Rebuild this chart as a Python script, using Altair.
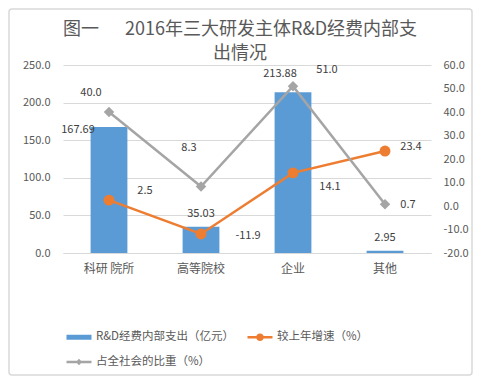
import altair as alt
import pandas as pd

# ---- data ----
categories = ["科研 院所", "高等院校", "企业", "其他"]
rd_spending = [167.69, 35.03, 213.88, 2.95]      # R&D经费内部支出（亿元）
growth_rate = [2.5, -11.9, 14.1, 23.4]           # 较上年增速（%）
share_pct = [40.0, 8.3, 51.0, 0.7]               # 占全社会的比重（%）
series_names = ["R&D经费内部支出（亿元）", "较上年增速（%）", "占全社会的比重（%）"]
left_ticks = [0, 50, 100, 150, 200, 250]
right_ticks = [-20, -10, 0, 10, 20, 30, 40, 50, 60]

df = pd.DataFrame({
    "cat": categories,
    "rd": rd_spending,
    "growth": growth_rate,
    "share": share_pct,
})
legend_df = pd.DataFrame({"series": series_names})

# ---- styles ----
FONT = "Noto Sans CJK SC"
BLUE, ORANGE, GRAY = "#5b9bd5", "#ed7d31", "#a5a5a5"
LBL = "#404040"
AX = "#595959"
GRID = "#d9d9d9"
MINUS_FIX = "replace(format(datum.value, '.1f'), '\u2212', '-')"

# label offsets (dx, dy) per category, mimicking the reference placement
bar_off = [(-31, 3), (0, -13), (-13, -18), (0, -13)]
growth_off = [(36, -9), (47, 2), (37, 14), (26, -4)]
share_off = [(-18, -19), (-12, -38), (34, -16), (23, 1)]

x_axis = alt.Axis(labelAngle=0, ticks=False, domain=True, domainColor=GRID,
                  labelFontSize=12, labelColor=AX, labelPadding=10, labelFont=FONT)
x_enc = alt.X("cat:N", sort=categories, title=None,
              scale=alt.Scale(paddingInner=0.6, paddingOuter=0.3), axis=x_axis)
x_plain = alt.X("cat:N", sort=categories, title=None, axis=x_axis)

left_scale = alt.Scale(domain=[0, 250], nice=False)
right_scale = alt.Scale(domain=[-20, 60], nice=False)

left_axis = alt.Axis(values=left_ticks, tickCount=6, labelExpr=MINUS_FIX, grid=True,
                     gridColor=GRID, ticks=False, domain=False, labelColor=AX,
                     labelFontSize=11, labelPadding=13, labelFont=FONT, labelOverlap=False)
right_axis = alt.Axis(orient="right", values=right_ticks, tickCount=9, labelExpr=MINUS_FIX,
                      grid=False, ticks=False, domain=False, labelColor=AX,
                      labelFontSize=11, labelPadding=12, labelFont=FONT, labelOverlap=False)


def yenc(field):
    if field == "rd":
        return alt.Y(f"{field}:Q", scale=left_scale, title=None, axis=left_axis)
    return alt.Y(f"{field}:Q", scale=right_scale, title=None, axis=right_axis)


base = alt.Chart(df)

bars = base.mark_bar(color=BLUE).encode(x=x_enc, y=yenc("rd"))


def labels(field, offsets, fmt):
    layers = []
    for c, (dx, dy) in zip(categories, offsets):
        layers.append(
            base.transform_filter(alt.datum.cat == c)
            .transform_calculate(
                lab=f"replace(format(datum.{field}, '{fmt}'), '\u2212', '-')")
            .mark_text(dx=dx, dy=dy, fontSize=11, color=LBL, font=FONT, baseline="middle")
            .encode(x=x_plain, y=yenc(field), text=alt.Text("lab:N"))
        )
    return layers


left = alt.layer(bars, *labels("rd", bar_off, ".2f"))

g_line = base.mark_line(color=ORANGE, strokeWidth=2.5).encode(x=x_plain, y=yenc("growth"))
g_pts = base.mark_point(filled=True, shape="circle", size=120, color=ORANGE,
                        opacity=1).encode(x=x_plain, y=yenc("growth"))
s_line = base.mark_line(color=GRAY, strokeWidth=2.5).encode(x=x_plain, y=yenc("share"))
s_pts = base.mark_point(filled=True, shape="diamond", size=110, color=GRAY,
                        opacity=1).encode(x=x_plain, y=yenc("share"))

right = alt.layer(g_line, s_line, s_pts, g_pts,
                  *labels("growth", growth_off, ".1f"),
                  *labels("share", share_off, ".1f"))

bar_sym = "M-1.25,-0.25H1.25V0.25H-1.25Z"
circ_sym = ("M-1.25,-0.13H1.25V0.13H-1.25Z "
            "M0.38,0A0.38,0.38 0 1,1 -0.38,0A0.38,0.38 0 1,1 0.38,0Z")
diam_sym = ("M-1.25,-0.13H1.25V0.13H-1.25Z "
            "M0,-0.32L0.32,0L0,0.32L-0.32,0Z")

leg = alt.Legend(title=None, orient="none", legendX=6, legendY=262, direction="horizontal",
                 columns=2, symbolSize=400, symbolOpacity=1, symbolStrokeWidth=0,
                 labelOffset=7, rowPadding=9, columnPadding=12, labelFontSize=11.5,
                 labelColor=AX, labelFont=FONT)

legend_layer = alt.Chart(legend_df).mark_point(filled=True, opacity=0).encode(
    color=alt.Color("series:N", sort=series_names,
                    scale=alt.Scale(domain=series_names, range=[BLUE, ORANGE, GRAY]),
                    legend=leg),
    shape=alt.Shape("series:N", sort=series_names,
                    scale=alt.Scale(domain=series_names, range=[bar_sym, circ_sym, diam_sym]),
                    legend=leg),
)

border = alt.Chart(pd.DataFrame({"a": [0]})).mark_rect(
    fill="transparent", stroke=GRID, strokeWidth=1.5, cornerRadius=3
).encode(
    x=alt.value(-54), x2=alt.value(409), y=alt.value(-56), y2=alt.value(310)
)

title_text = ["图一\u3000\u00a0\u00a02016年三大研发主体R&D经费内部支", "出情况"]

chart = alt.layer(border, left, right, legend_layer).resolve_scale(
    y="independent"
).properties(
    width=368, height=188,
    padding={"left": 55, "top": 57, "right": 42, "bottom": 123},
    autosize=alt.AutoSizeParams(type="none"),
    title=alt.TitleParams(text=title_text, fontSize=18, font=FONT, fontWeight="normal",
                          color=AX, anchor="middle", offset=-55, lineHeight=24, dx=-7),
).configure_view(stroke=None)

chart.save("out.html", embed_options={"renderer": "svg", "actions": False})
